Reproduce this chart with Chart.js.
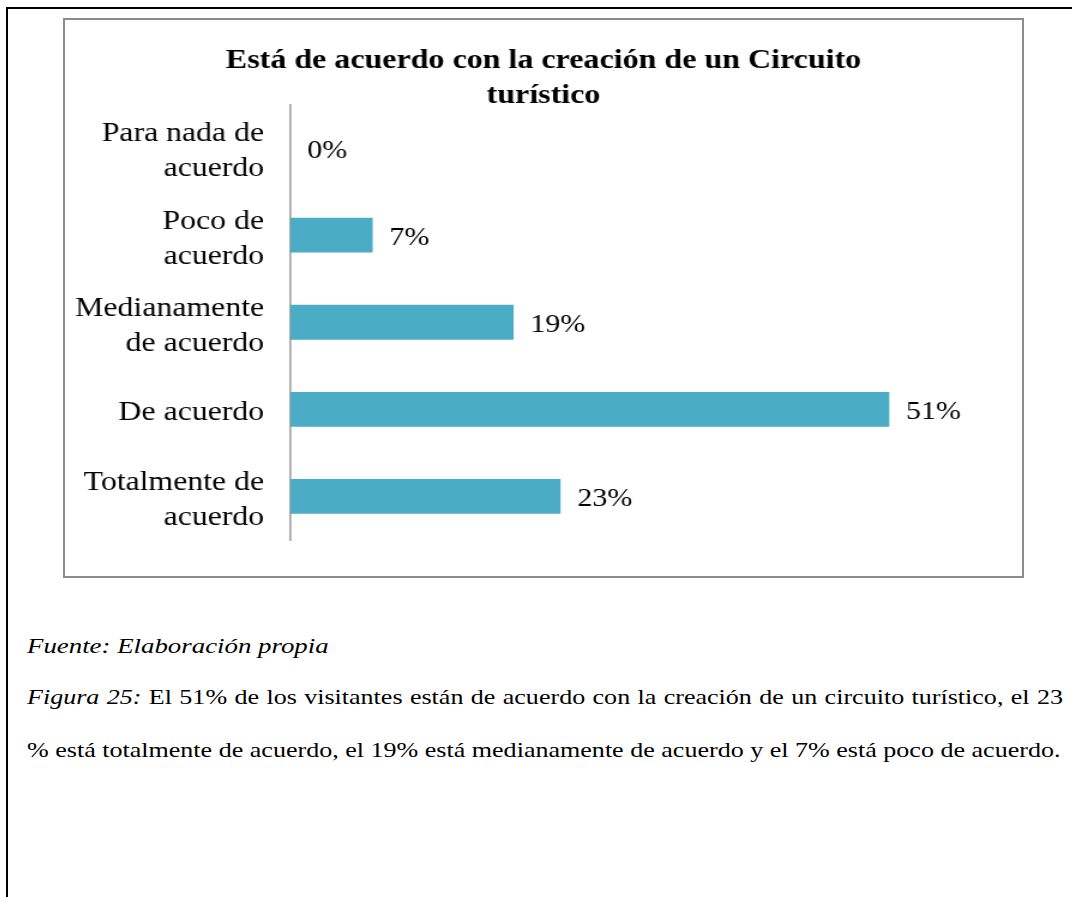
<!DOCTYPE html>
<html lang="es">
<head>
<meta charset="utf-8">
<title>Circuito turístico</title>
<script src="https://cdn.jsdelivr.net/npm/chart.js@4/dist/chart.umd.min.js"></script>
<style>
  html, body { margin: 0; padding: 0; background: #fff; }
  body { width: 1072px; height: 897px; position: relative; overflow: hidden; font-family: 'Liberation Serif', 'Times New Roman', serif; color: #000; }
  .page-top { position: absolute; left: 7px; top: 7px; width: 1065px; height: 2px; background: #000; }
  .page-left { position: absolute; left: 6px; top: 7px; width: 2px; height: 890px; background: #000; }
  .chart-box { position: absolute; left: 63px; top: 18px; width: 961px; height: 560px; box-sizing: border-box; border: 2px solid #8c8c8c; }
  /* the source picture is stretched sideways, so the canvas is drawn narrow and widened */
  .chart-box canvas { position: absolute; left: 0; top: 0; }
  .note { position: absolute; left: 27px; font-size: 22px; white-space: nowrap; line-height: 1; transform: scaleX(1.184); transform-origin: 0 0; }
  .note.source { transform: scaleX(1.22); }
  .note.justify { width: 875px; text-align: justify; text-align-last: justify; }
  .note i { font-style: italic; }
</style>
</head>
<body>
<div class="page-top"></div>
<div class="page-left"></div>
<div class="chart-box"><canvas id="chart" width="798" height="556" style="width: 957px; height: 556px;"></canvas></div>
<div class="note source" style="top: 635px;"><i>Fuente: Elaboración propia</i></div>
<div class="note justify" style="top: 686px;"><i>Figura 25:</i> El 51% de los visitantes están de acuerdo con la creación de un circuito turístico, el 23</div>
<div class="note" style="top: 739px;">% está totalmente de acuerdo, el 19% está medianamente de acuerdo y el 7% está poco de acuerdo.</div>
<script>
const TITLE = ['Está de acuerdo con la creación de un Circuito', 'turístico'];
const CATEGORIES = [
  ['Para nada de', 'acuerdo'],
  ['Poco de', 'acuerdo'],
  ['Medianamente', 'de acuerdo'],
  ['De acuerdo'],
  ['Totalmente de', 'acuerdo'],
];
const PERCENTS = [0, 7, 19, 51, 23];
const X_MAX = 62.3;

const FONT = "'Liberation Serif', 'Times New Roman', serif";

const valueLabels = {
  id: 'valueLabels',
  afterDatasetsDraw(chart) {
    const { ctx } = chart;
    const meta = chart.getDatasetMeta(0);
    ctx.save();
    ctx.font = `25px ${FONT}`;
    ctx.fillStyle = '#000';
    ctx.textAlign = 'left';
    ctx.textBaseline = 'middle';
    meta.data.forEach((bar, i) => {
      ctx.fillText(`${PERCENTS[i]}%`, bar.x + 14, bar.y + 3);
    });
    ctx.restore();
  },
};

new Chart(document.getElementById('chart'), {
  type: 'bar',
  data: {
    labels: CATEGORIES,
    datasets: [
      {
        data: PERCENTS,
        backgroundColor: '#4bacc6',
        borderWidth: 0,
        barPercentage: 0.4,
        categoryPercentage: 1,
      },
    ],
  },
  options: {
    indexAxis: 'y',
    responsive: false,
    animation: false,
    layout: { padding: { left: 0, right: 0, top: 0, bottom: 36 } },
    plugins: {
      legend: { display: false },
      tooltip: { enabled: false },
      title: {
        display: true,
        text: TITLE,
        color: '#000',
        font: { family: FONT, size: 26.7, weight: 'bold', lineHeight: 1.3 },
        padding: { top: 24, bottom: -9 },
      },
    },
    scales: {
      x: { display: false, min: 0, max: X_MAX },
      y: {
        afterFit: (scale) => {
          scale.width = 188;
          // labels sit inside their bands, no extra room needed above or below
          scale.paddingTop = 0;
          scale.paddingBottom = 0;
        },
        grid: { display: false, drawTicks: false },
        border: { display: true, color: '#a6a6a6', width: 1.7 },
        ticks: {
          color: '#000',
          padding: 22,
          labelOffset: 4,
          font: { family: FONT, size: 26.5, lineHeight: 1.32 },
        },
      },
    },
  },
  plugins: [valueLabels],
});
</script>
</body>
</html>
